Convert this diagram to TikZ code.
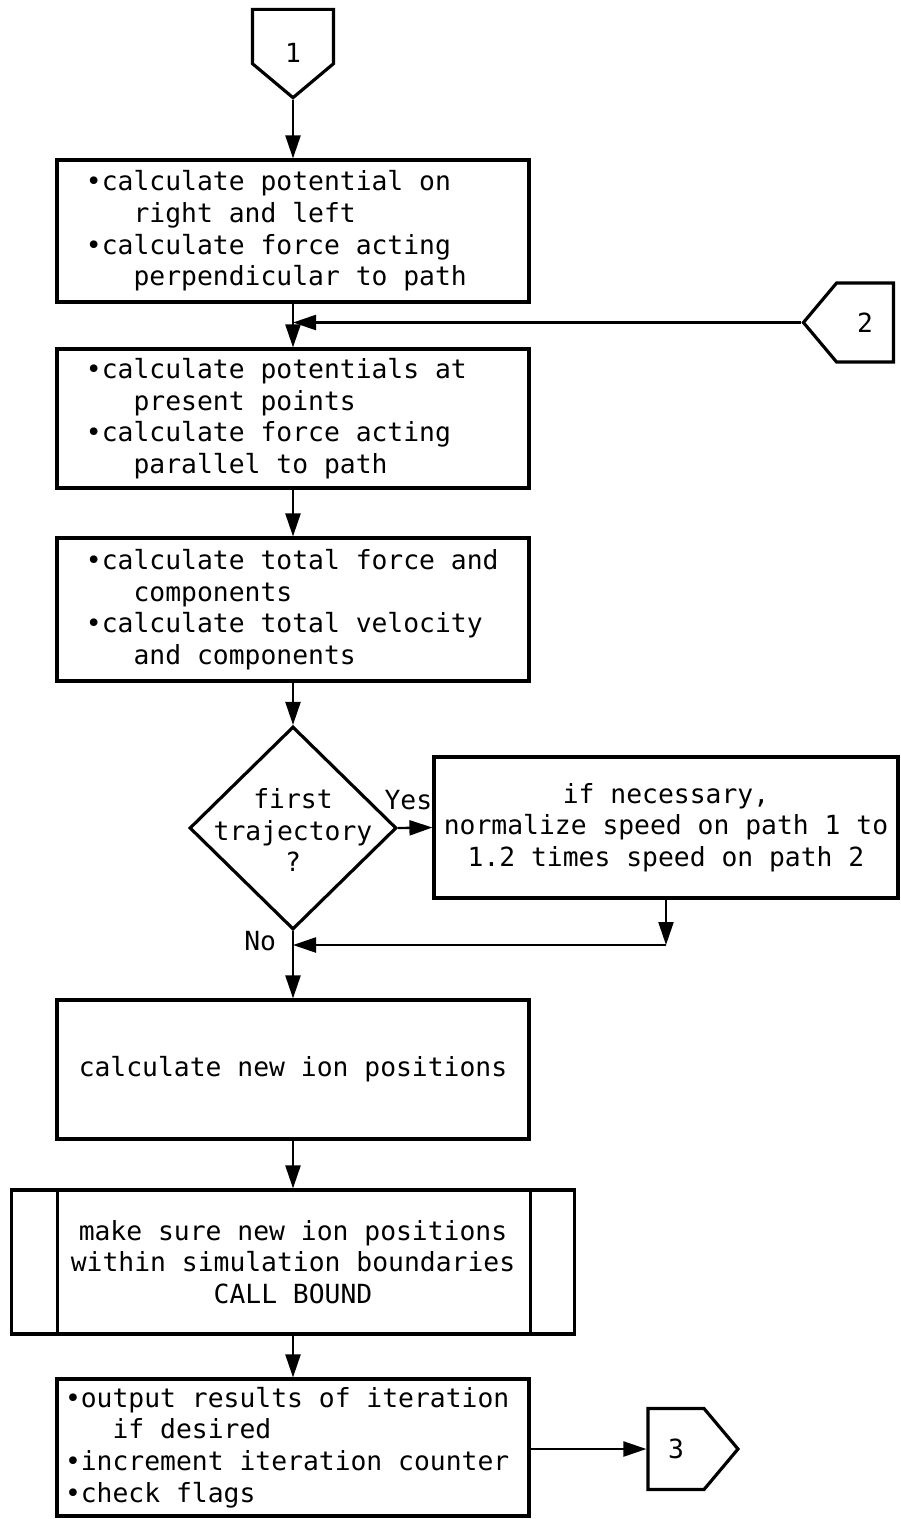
\documentclass[tikz,border=0pt]{standalone}
\usepackage{fontspec}
\setmainfont{DejaVu Sans Mono}
\usetikzlibrary{shapes.geometric,shapes.symbols,arrows.meta}

\newcommand{\ind}{\hspace*{1.806em}}

\tikzset{
  box/.style={draw, line width=1.8pt, minimum width=9.44cm, inner sep=0pt},
  listbox/.style={box, text width=8.28cm, inner xsep=0.58cm, align=flush left},
  plainbox/.style={box, align=center},
  decision/.style={draw, diamond, line width=1.8pt, minimum width=4.14cm, minimum height=4.06cm, inner sep=0pt},
  offpage/.style={draw, signal, line width=1.8pt, signal pointer angle=100, inner sep=0pt},
  flow/.style={line width=1.3pt, ->},
}

\begin{document}
\begin{tikzpicture}[>={Triangle[length=0.46cm,width=0.30cm]}, font=\fontsize{15}{18}\selectfont]
    \useasboundingbox (0,0) rectangle (18.02,-30.38);
    % off-page connectors
    \node[offpage, signal to=south, minimum width=1.62cm, minimum height=1.22cm, text height=1.02cm, text depth=0pt] (c1) at (5.86,-0.73) {1};
    \node[offpage, signal to=west, minimum width=1.80cm, minimum height=1.58cm] (c2) at (17.30,-6.45) {2};
    \node[offpage, signal to=east, minimum width=1.80cm, minimum height=1.62cm] (c3) at (13.52,-28.98) {3};
    % main column
    \node[listbox, minimum height=2.84cm] (b1) at (5.86,-4.62) {•calculate potential on\\\ind right and left\\•calculate force acting\\\ind perpendicular to path};
    \node[listbox, minimum height=2.78cm] (b2) at (5.86,-8.37) {•calculate potentials at\\\ind present points\\•calculate force acting\\\ind parallel to path};
    \node[listbox, minimum height=2.86cm] (b3) at (5.86,-12.19) {•calculate total force and\\\ind components\\•calculate total velocity\\\ind and components};
    \node[decision] (dec) at (5.86,-16.56) {};
    \node[align=center] (dectext) at (5.86,-16.60) {first\\trajectory\\?};
    \node[plainbox, minimum width=9.28cm, minimum height=2.82cm] (yes) at (13.32,-16.55) {if necessary,\\normalize speed on path 1 to\\1.2 times speed on path 2};
    \node[plainbox, minimum height=2.78cm] (b4) at (5.86,-21.39) {calculate new ion positions};
    \node[plainbox, minimum width=11.26cm, minimum height=2.88cm] (b5) at (5.86,-25.24) {make sure new ion positions\\within simulation boundaries\\CALL BOUND};
    \draw[line width=1.8pt] ([xshift=0.95cm]b5.north west) -- ([xshift=0.95cm]b5.south west);
    \draw[line width=1.8pt] ([xshift=-0.92cm]b5.north east) -- ([xshift=-0.92cm]b5.south east);
    \node[listbox, text width=9.12cm, inner xsep=0.16cm, minimum height=2.74cm] (b6) at (5.86,-28.95) {•output results of iteration\\\ind if desired\\•increment iteration counter\\•check flags};
    % joins
    \coordinate (j2) at (b1.south |- c2.west);
    \coordinate (jn) at (5.86,-18.90);
    \coordinate (jy) at (yes.south |- jn);
    % connectors
    \draw[flow] (c1.south) -- (b1.north);
    \draw[flow] (b1.south) -- (b2.north);
    \draw[flow] (c2.west) -- (j2);
    \draw[flow] (b2.south) -- (b3.north);
    \draw[flow] (b3.south) -- (dec.north);
    \draw[flow] (dec.east) -- node[pos=0.3, above=0.22cm] (yeslbl) {Yes} (yes.west);
    \draw[flow] (yes.south) -- (jy);
    \draw[flow] (jy) -- (jn);
    \draw[flow] (dec.south) -- node[pos=0.15, left=0.2cm] (nolbl) {No} (b4.north);
    \draw[flow] (b4.south) -- (b5.north);
    \draw[flow] (b5.south) -- (b6.north);
    \draw[flow] (b6.east |- c3.west) -- (c3.west);
\end{tikzpicture}
\end{document}
